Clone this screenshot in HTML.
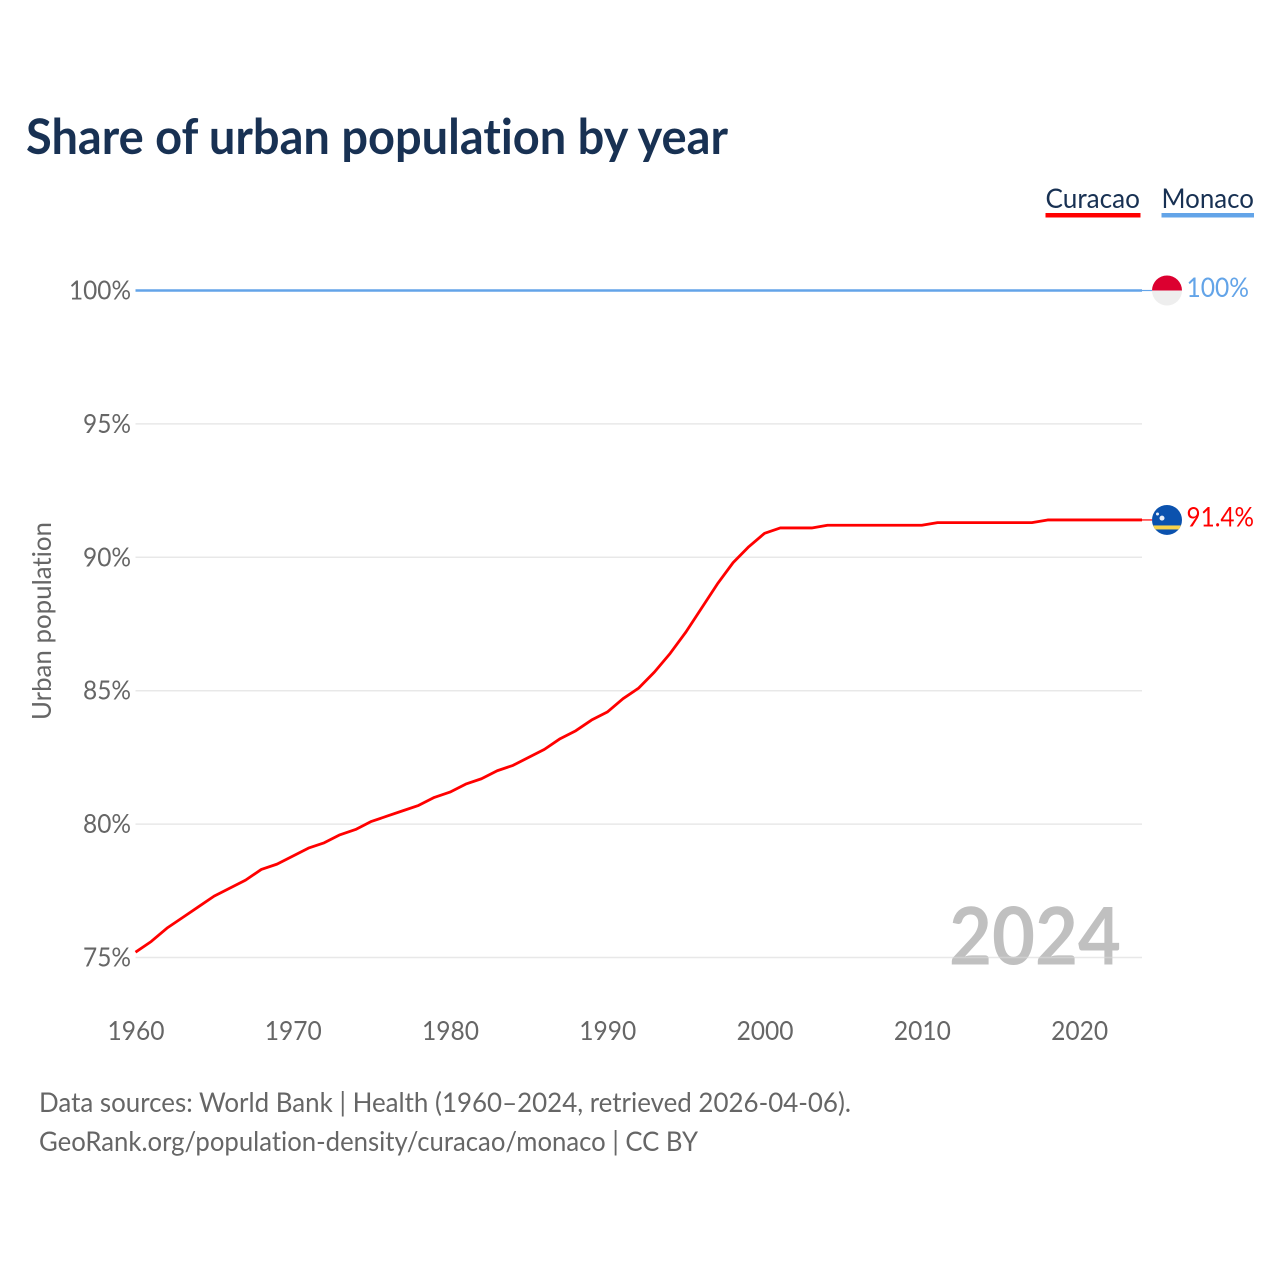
<!DOCTYPE html>
<html lang="en">
<head>
<meta charset="utf-8">
<title>Share of urban population by year</title>
<style>
html,body{margin:0;padding:0;background:#fff;width:1280px;height:1280px;overflow:hidden}
svg{display:block;font-family:"Lato","Carlito","Liberation Sans",sans-serif;font-variant-ligatures:none}
</style>
</head>
<body>
<svg id="chart" xmlns="http://www.w3.org/2000/svg" width="1280" height="1280" viewBox="0 0 1280 1280">
  <rect x="0" y="0" width="1280" height="1280" fill="#fff"/>
  <text x="26" y="154" font-size="48.5" font-weight="700" fill="#183153" textLength="702" lengthAdjust="spacingAndGlyphs">Share of urban population by year</text>

  <g>
    <text x="1045.5" y="208" font-size="27.5" fill="#183153" textLength="94.5" lengthAdjust="spacingAndGlyphs">Curacao</text>
    <rect x="1045.5" y="213" width="95" height="4.5" fill="#ff0000"/>
  </g>
  <g>
    <text x="1161.5" y="208" font-size="27.5" fill="#183153" textLength="92.5" lengthAdjust="spacingAndGlyphs">Monaco</text>
    <rect x="1161.5" y="213" width="92.5" height="4.5" fill="#63a4e8"/>
  </g>

  <text x="949" y="964.5" font-size="80" font-weight="700" fill="#c0c0c0" textLength="172" lengthAdjust="spacingAndGlyphs">2024</text>

  <g id="grid"></g>
  <g id="y-ticks"></g>
  <g id="x-ticks"></g>
  <text transform="translate(51,621) rotate(-90)" text-anchor="middle" font-size="26.5" fill="#666" textLength="198" lengthAdjust="spacingAndGlyphs">Urban population</text>

  <path id="line-monaco" fill="none" stroke="#63a4e8" stroke-width="2.6" stroke-linejoin="round"/>
  <path id="line-curacao" fill="none" stroke="#ff0000" stroke-width="2.8" stroke-linejoin="round"/>
  <line id="conn-monaco" stroke="#63a4e8" stroke-width="1.2"/>
  <line id="conn-curacao" stroke="#ff0000" stroke-width="1.2"/>

  <defs>
    <clipPath id="clip-mc"><circle id="clip-mc-c" r="15"/></clipPath>
    <clipPath id="clip-cw"><circle id="clip-cw-c" r="15"/></clipPath>
  </defs>
  <g id="flag-monaco" clip-path="url(#clip-mc)"></g>
  <g id="flag-curacao" clip-path="url(#clip-cw)"></g>

  <text id="end-label-monaco" font-size="27" fill="#63a4e8"></text>
  <text id="end-label-curacao" font-size="27" fill="#ff0000"></text>

  <text x="39" y="1112" font-size="27.5" fill="#666" textLength="812" lengthAdjust="spacingAndGlyphs">Data sources: World Bank | Health (1960–2024, retrieved 2026-04-06).</text>
  <text x="39" y="1151" font-size="27.5" fill="#666" textLength="659" lengthAdjust="spacingAndGlyphs">GeoRank.org/population-density/curacao/monaco | CC BY</text>
</svg>
<script>
const years = [1960,1961,1962,1963,1964,1965,1966,1967,1968,1969,1970,1971,1972,1973,1974,1975,1976,1977,1978,1979,1980,1981,1982,1983,1984,1985,1986,1987,1988,1989,1990,1991,1992,1993,1994,1995,1996,1997,1998,1999,2000,2001,2002,2003,2004,2005,2006,2007,2008,2009,2010,2011,2012,2013,2014,2015,2016,2017,2018,2019,2020,2021,2022,2023,2024];
const curacao = [75.2,75.6,76.1,76.5,76.9,77.3,77.6,77.9,78.3,78.5,78.8,79.1,79.3,79.6,79.8,80.1,80.3,80.5,80.7,81.0,81.2,81.5,81.7,82.0,82.2,82.5,82.8,83.2,83.5,83.9,84.2,84.7,85.1,85.7,86.4,87.2,88.1,89.0,89.8,90.4,90.9,91.1,91.1,91.1,91.2,91.2,91.2,91.2,91.2,91.2,91.2,91.3,91.3,91.3,91.3,91.3,91.3,91.3,91.4,91.4,91.4,91.4,91.4,91.4,91.4];
const monaco = [100,100,100,100,100,100,100,100,100,100,100,100,100,100,100,100,100,100,100,100,100,100,100,100,100,100,100,100,100,100,100,100,100,100,100,100,100,100,100,100,100,100,100,100,100,100,100,100,100,100,100,100,100,100,100,100,100,100,100,100,100,100,100,100,100];
const yTickValues = [75,80,85,90,95,100];
const xTickValues = [1960,1970,1980,1990,2000,2010,2020];
const endLabelCuracao = "91.4%";
const endLabelMonaco = "100%";

const NS = "http://www.w3.org/2000/svg";
function xScale(year){ return 135.5 + (year - 1960) * (1142 - 135.5) / 64; }
function yScale(pct){ return 957.5 - (pct - 75) * (957.5 - 290.5) / 25; }
function make(tag, attrs){
  const el = document.createElementNS(NS, tag);
  for (const k in attrs) el.setAttribute(k, attrs[k]);
  return el;
}
function linePath(values){
  return values.map((v, i) => (i ? "L" : "M") + xScale(years[i]).toFixed(2) + " " + yScale(v).toFixed(2)).join("");
}

const gridG = document.getElementById("grid");
const yG = document.getElementById("y-ticks");
yTickValues.forEach(function(v){
  if (v !== 100) {
    const g = make("line", {x1: 135.5, x2: 1142, y1: yScale(v), y2: yScale(v), stroke: "#d8d8d8", "stroke-opacity": 0.6, "stroke-width": 1.5});
    
    
    gridG.appendChild(g);
  }
  const label = v + "%";
  const t = make("text", {x: 131, y: yScale(v) + 9, "text-anchor": "end", "font-size": 26, fill: "#666", textLength: label.length * 14 + 6, lengthAdjust: "spacingAndGlyphs"});
  
  
  t.textContent = label;
  yG.appendChild(t);
});

const xG = document.getElementById("x-ticks");
xTickValues.forEach(function(v){
  const t = make("text", {x: xScale(v) + 0.5, y: 1040, "text-anchor": "middle", "font-size": 26.5, fill: "#666", textLength: 57, lengthAdjust: "spacingAndGlyphs"});
  
  
  t.textContent = v;
  xG.appendChild(t);
});

document.getElementById("line-curacao").setAttribute("d", linePath(curacao));
document.getElementById("line-monaco").setAttribute("d", linePath(monaco));

const lastX = xScale(years[years.length - 1]);
const flagX = lastX + 25;
const yMc = yScale(monaco[monaco.length - 1]);
const yCw = yScale(curacao[curacao.length - 1]);

function connector(id, y){
  const c = document.getElementById(id);
  c.setAttribute("x1", lastX);
  c.setAttribute("x2", flagX - 15);
  c.setAttribute("y1", y);
  c.setAttribute("y2", y);
}
connector("conn-monaco", yMc);
connector("conn-curacao", yCw);

const clipMc = document.getElementById("clip-mc-c");
clipMc.setAttribute("cx", flagX);
clipMc.setAttribute("cy", yMc);
const clipCw = document.getElementById("clip-cw-c");
clipCw.setAttribute("cx", flagX);
clipCw.setAttribute("cy", yCw);

const fm = document.getElementById("flag-monaco");
fm.appendChild(make("rect", {x: flagX - 15, y: yMc - 15, width: 30, height: 15, fill: "#dc0030"}));
fm.appendChild(make("rect", {x: flagX - 15, y: yMc, width: 30, height: 15, fill: "#eeeeee"}));

const fc = document.getElementById("flag-curacao");
fc.appendChild(make("rect", {x: flagX - 15, y: yCw - 15, width: 30, height: 30, fill: "#0b52ae"}));
fc.appendChild(make("rect", {x: flagX - 15, y: yCw + 5.5, width: 30, height: 4, fill: "#f9d24a"}));
fc.appendChild(make("circle", {cx: flagX - 5, cy: yCw - 1.8, r: 2.5, fill: "#e8eef8"}));
fc.appendChild(make("circle", {cx: flagX - 9.5, cy: yCw - 6, r: 1.5, fill: "#e8eef8"}));

const lm = document.getElementById("end-label-monaco");
lm.setAttribute("x", 1186.5);
lm.setAttribute("y", yMc + 6.5);
lm.setAttribute("textLength", 62.5);
lm.setAttribute("lengthAdjust", "spacingAndGlyphs");
lm.textContent = endLabelMonaco;
const lc = document.getElementById("end-label-curacao");
lc.setAttribute("x", 1186.5);
lc.setAttribute("y", yCw + 6.5);
lc.setAttribute("textLength", 67.5);
lc.setAttribute("lengthAdjust", "spacingAndGlyphs");
lc.textContent = endLabelCuracao;
</script>
</body>
</html>
